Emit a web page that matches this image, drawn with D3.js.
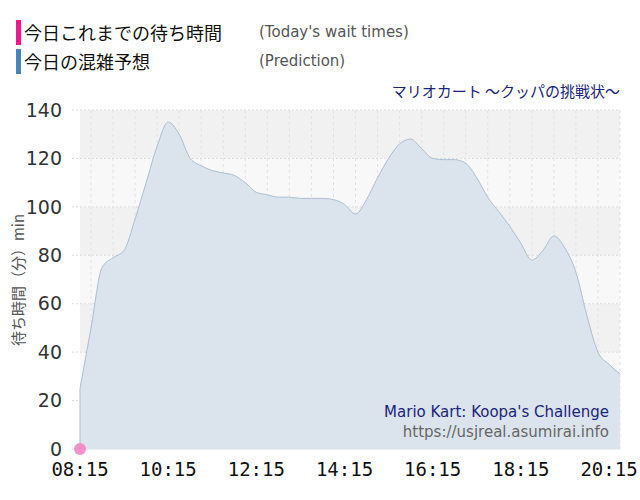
<!DOCTYPE html>
<html lang="ja">
<head>
<meta charset="UTF-8">
<script src="https://d3js.org/d3.v7.min.js"></script>
<style>
  body { margin: 0; background: #fff; font-family: "Noto Sans CJK JP", "DejaVu Sans", sans-serif; }
</style>
</head>
<body>
<svg id="chart" width="640" height="500"></svg>
<script>
// Prediction every 15 minutes from 08:15 to 20:30
const startTime = "08:15";
const prediction = [25, 50, 75, 79, 82, 95, 110, 125, 135, 130, 120, 117, 115, 114, 113, 110,
  106, 105, 104, 104, 103.5, 103.5, 103.5, 103, 101, 97, 103, 112, 120, 126, 128, 124, 120,
  119.5, 119.5, 118, 112, 104, 98, 92, 85, 78, 82, 88, 83, 73, 55, 40, 35, 31];
const actual = [{t: "08:15", v: 0}];
const yTicks = [0, 20, 40, 60, 80, 100, 120, 140];
const xTickLabels = ["08:15", "10:15", "12:15", "14:15", "16:15", "18:15", "20:15"];

const svg = d3.select("#chart");
const parse = d3.timeParse("%H:%M");
const t0 = parse(startTime);
const pts = prediction.map((v, i) => ({t: d3.timeMinute.offset(t0, i * 15), v}));

const pLeft = 80, pRight = 620, pTop = 110, pBottom = 449;
const x = d3.scaleTime().domain([t0, parse("20:30")]).range([pLeft, pRight]);
const y = d3.scaleLinear().domain([0, 140]).range([pBottom, pTop]);

// background bands
for (let i = 0; i < 7; i++) {
  svg.append("rect")
    .attr("x", pLeft).attr("width", pRight - pLeft)
    .attr("y", y(yTicks[i + 1])).attr("height", y(yTicks[i]) - y(yTicks[i + 1]))
    .attr("fill", i % 2 ? "#f8f8f8" : "#f1f1f1");
}

// vertical grid every 30 min
d3.timeMinute.every(30).range(t0, parse("20:31")).forEach(d => {
  svg.append("line")
    .attr("x1", x(d)).attr("x2", x(d)).attr("y1", pTop).attr("y2", pBottom)
    .attr("stroke", (d - t0) % (120 * 60000) === 0 ? "#d8d8d8" : "#e2e2e2")
    .attr("stroke-dasharray", "3,3");
});
yTicks.forEach(v => {
  svg.append("line").attr("x1", pLeft - 8).attr("x2", pRight).attr("y1", y(v)).attr("y2", y(v))
    .attr("stroke", "#dcdcdc").attr("stroke-dasharray", v === 0 ? null : "2,2");
});

// area
svg.append("path").datum(pts)
  .attr("d", d3.area().x(d => x(d.t)).y0(y(0)).y1(d => y(d.v)).curve(d3.curveMonotoneX))
  .attr("fill", "#dbe4ec");
svg.append("path").datum(pts)
  .attr("d", d3.line().x(d => x(d.t)).y(d => y(d.v)).curve(d3.curveMonotoneX))
  .attr("fill", "none").attr("stroke", "#a9bfd3").attr("stroke-width", 1);
svg.append("line").attr("x1", pLeft).attr("x2", pLeft).attr("y1", y(0)).attr("y2", y(prediction[0]))
  .attr("stroke", "#a9bfd3");

// actual
svg.selectAll(".act").data(actual).join("circle")
  .attr("cx", d => x(parse(d.t))).attr("cy", d => y(d.v)).attr("r", 6)
  .attr("fill", "#f47fbf").attr("opacity", 0.85);

// y axis labels
svg.selectAll(".yl").data(yTicks).join("text")
  .attr("x", 62).attr("y", d => y(d)).attr("dy", "0.35em").attr("text-anchor", "end")
  .attr("font-size", 19).attr("fill", "#333").attr("font-family", "DejaVu Sans, sans-serif")
  .text(d => d);
svg.append("text").attr("transform", "translate(24,280) rotate(-90)")
  .attr("text-anchor", "middle").attr("font-size", 15).attr("fill", "#555")
  .text("待ち時間（分）min");

// x axis labels
svg.selectAll(".xl").data(xTickLabels).join("text")
  .attr("x", d => x(parse(d))).attr("y", 476).attr("text-anchor", "middle")
  .attr("font-size", 19).attr("fill", "#111").attr("font-family", "DejaVu Sans Mono, monospace")
  .text(d => d);

// legend
const legend = [
  {c: "#f0188c", ja: "今日これまでの待ち時間", en: "(Today's wait times)", y: 31},
  {c: "#4a85b8", ja: "今日の混雑予想", en: "(Prediction)", y: 60}
];
legend.forEach(l => {
  svg.append("rect").attr("x", 16).attr("y", l.y - 11).attr("width", 5).attr("height", 25).attr("fill", l.c);
  svg.append("text").attr("x", 24).attr("y", l.y + 9).attr("font-size", 18).attr("fill", "#111").text(l.ja);
  svg.append("text").attr("x", 259).attr("y", l.y + 6).attr("font-size", 15).attr("fill", "#555")
    .attr("font-family", "DejaVu Sans, sans-serif").text(l.en);
});
svg.append("text").attr("x", 620).attr("y", 97).attr("text-anchor", "end")
  .attr("font-size", 15).attr("fill", "#1a237e").text("マリオカート ～クッパの挑戦状～");
svg.append("text").attr("x", 609).attr("y", 417).attr("text-anchor", "end")
  .attr("font-size", 15).attr("fill", "#1a237e").attr("font-family", "DejaVu Sans, sans-serif")
  .text("Mario Kart: Koopa's Challenge");
svg.append("text").attr("x", 609).attr("y", 437).attr("text-anchor", "end")
  .attr("font-size", 15).attr("fill", "#666").attr("font-family", "DejaVu Sans, sans-serif")
  .text("https://usjreal.asumirai.info");
</script>
</body>
</html>
